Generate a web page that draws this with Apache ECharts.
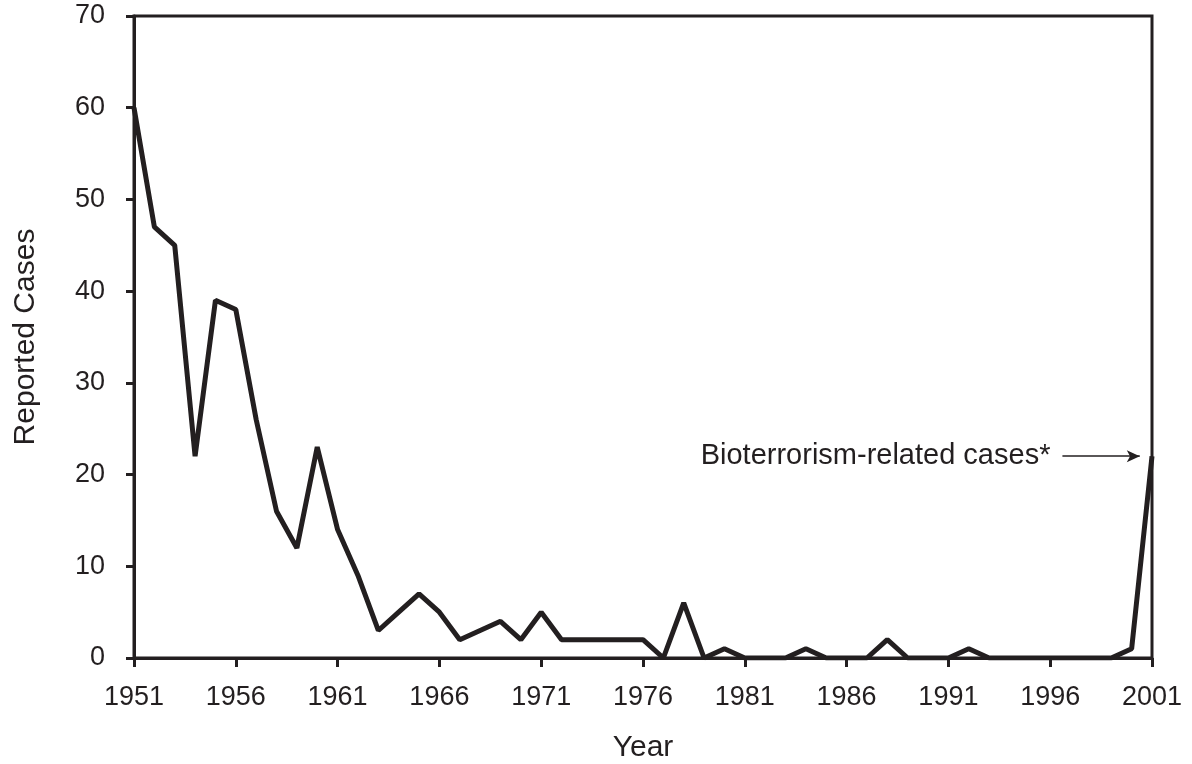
<!DOCTYPE html>
<html>
<head>
<meta charset="utf-8">
<script src="https://cdn.jsdelivr.net/npm/echarts@6/dist/echarts.min.js"></script>
<style>
  html, body { margin: 0; padding: 0; background: #fff; }
  #chart { width: 1192px; height: 764px; }
</style>
</head>
<body>
<div id="chart"></div>
<script>
// reported cases per year, 1951-2001
const years = [];
for (let y = 1951; y <= 2001; y++) years.push(y);
const cases = [
  60, 47, 45, 22, 39, 38, 26, 16, 12, 23,
  14, 9, 3, 5, 7, 5, 2, 3, 4, 2,
  5, 2, 2, 2, 2, 2, 0, 6, 0, 1,
  0, 0, 0, 1, 0, 0, 0, 2, 0, 0,
  0, 1, 0, 0, 0, 0, 0, 0, 0, 1,
  22
];
const noteText = 'Bioterrorism-related cases*';
const noteFrom = [1996.6, 22];
const noteTo = [2000.4, 22];

const ink = '#231f20';
const font = '"Liberation Sans", Arial, sans-serif';

const chart = echarts.init(document.getElementById('chart'), null, { renderer: 'canvas' });

const option = {
  animation: false,
  backgroundColor: '#fff',
  grid: {
    left: 134, right: 40, top: 16, bottom: 106,
    outerBoundsMode: 'none',
    show: true, borderColor: ink, borderWidth: 3
  },
  xAxis: {
    type: 'value',
    min: 1951, max: 2001, interval: 5,
    name: 'Year',
    nameLocation: 'middle',
    nameGap: 75,
    nameTextStyle: { fontFamily: font, fontSize: 30, color: ink },
    axisLine: { lineStyle: { color: ink, width: 3 } },
    axisTick: { length: 9, lineStyle: { color: ink, width: 3 } },
    axisLabel: {
      margin: 26, fontFamily: font, fontSize: 27, color: ink,
      formatter: (v) => String(v)
    },
    splitLine: { show: false }
  },
  yAxis: {
    type: 'value',
    min: 0, max: 70, interval: 10,
    name: 'Reported Cases',
    nameLocation: 'middle',
    nameGap: 93,
    nameTextStyle: { fontFamily: font, fontSize: 30, color: ink },
    axisLine: { show: true, lineStyle: { color: ink, width: 3 } },
    axisTick: { show: true, length: 8, lineStyle: { color: ink, width: 3 } },
    axisLabel: { margin: 29, fontFamily: font, fontSize: 27, color: ink },
    splitLine: { show: false }
  },
  series: [{
    type: 'line',
    data: years.map((y, i) => [y, cases[i]]),
    showSymbol: false,
    lineStyle: { color: ink, width: 5 },
    markLine: {
      silent: true,
      symbol: ['none', 'arrow'],
      symbolSize: [9, 13],
      lineStyle: { color: ink, width: 1.5, type: 'solid' },
      label: {
        show: true, position: 'start', distance: 12,
        formatter: noteText,
        fontFamily: font, fontSize: 29, color: ink
      },
      emphasis: { disabled: true },
      data: [[{ coord: noteFrom }, { coord: noteTo }]]
    }
  }]
};

chart.setOption(option);
</script>
</body>
</html>
